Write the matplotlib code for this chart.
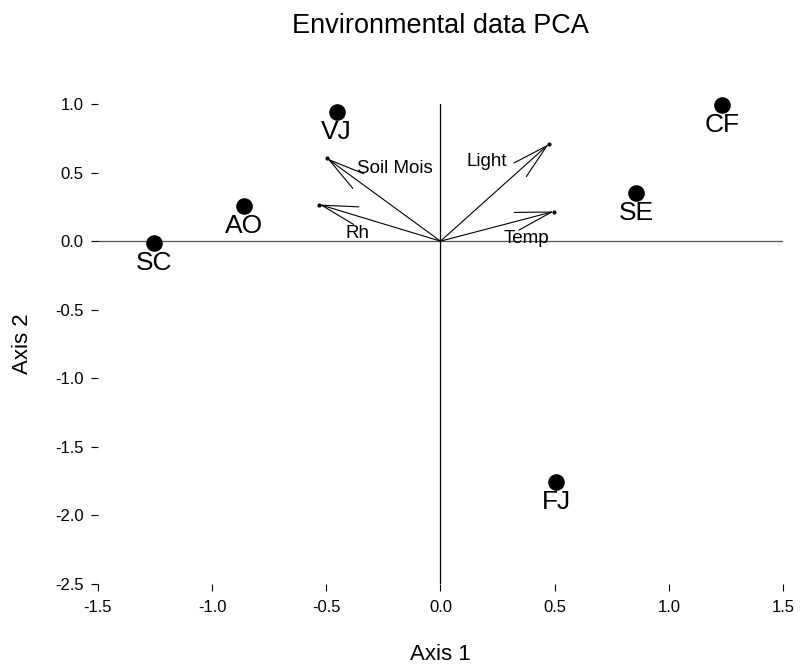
import matplotlib
matplotlib.use("Agg")
import matplotlib.pyplot as plt

plt.rcParams['font.family'] = ['Liberation Sans', 'DejaVu Sans']

# Site scores
sites = ["SC", "AO", "VJ", "CF", "SE", "FJ"]
site_x = [-1.256, -0.862, -0.455, 1.234, 0.858, 0.508]
site_y = [-0.01, 0.255, 0.942, 0.991, 0.348, -1.755]

# Environmental variable loadings (arrows)
variables = ["Soil Mois", "Light", "Rh", "Temp"]
var_x = [-0.496, 0.474, -0.53, 0.496]
var_y = [0.603, 0.707, 0.267, 0.216]
# label offsets from arrow tips (pixels)
var_label_offsets = [(68, -10), (-62, -17), (38, -29), (-27, -27)]

xticks = [-1.5, -1.0, -0.5, 0.0, 0.5, 1.0, 1.5]
yticks = [-2.5, -2.0, -1.5, -1.0, -0.5, 0.0, 0.5, 1.0]

W, H = 803, 669
fig = plt.figure(figsize=(W / 100, H / 100), dpi=100)
ax = fig.add_axes([98/W, 1-584/H, (783-98)/W, (584-104)/H])
ax.set_xlim(-1.5, 1.5)
ax.set_ylim(-2.5, 1.0)
for s in ax.spines.values():
    s.set_visible(False)

ax.axhline(0, color='#555555', lw=0.9, zorder=1)
ax.axvline(0, color='black', lw=0.9, zorder=1)

# Arrows
for vx, vy in zip(var_x, var_y):
    ax.annotate("", xy=(vx, vy), xytext=(0, 0),
                arrowprops=dict(arrowstyle="->, head_length=1.3, head_width=0.33",
                                color='black', lw=0.8, shrinkA=0, shrinkB=0,
                                mutation_scale=20))
ax.scatter(var_x, var_y, s=4, color='black', zorder=3)
for name, vx, vy, off in zip(variables, var_x, var_y, var_label_offsets):
    ax.annotate(name, xy=(vx, vy), xytext=off, textcoords='offset pixels',
                ha='center', va='center', fontsize=13.5)

# Sites
ax.scatter(site_x, site_y, s=120, color='black', zorder=4, clip_on=False)
for name, sx, sy in zip(sites, site_x, site_y):
    ax.annotate(name, xy=(sx, sy), xytext=(0, -27), textcoords='offset pixels',
                ha='center', va='baseline', fontsize=19)

ax.set_xticks(xticks)
ax.set_xticklabels([f"{t:.1f}" for t in xticks])
ax.set_yticks(yticks)
ax.set_yticklabels([f"{t:.1f}" for t in yticks])
ax.tick_params(direction='out', length=5, width=0.8, labelsize=12)
ax.tick_params(axis='x', pad=6.5)
ax.tick_params(axis='y', pad=5.5)

fig.text(440/W, 1-660/H, "Axis 1", ha='center', va='baseline', fontsize=16)
fig.text(22.4/W, 1-344/H, "Axis 2", ha='center', va='center', rotation=90, fontsize=16)
fig.text(440/W, 1-33/H, "Environmental data PCA", ha='center', va='baseline', fontsize=19.5)

fig.savefig("out.png", dpi=100)
